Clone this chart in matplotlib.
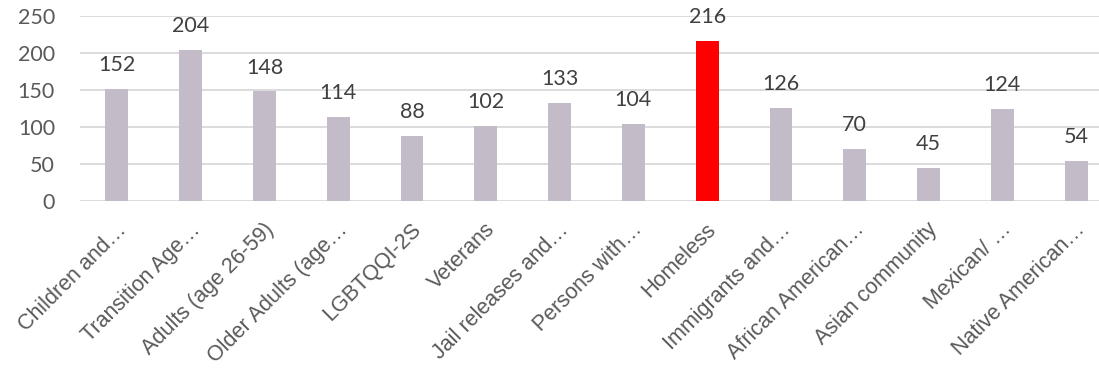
import numpy as np
import matplotlib.pyplot as plt
from matplotlib.transforms import ScaledTranslation

# 各群体人数
groups = ['Children and…', 'Transition Age…', 'Adults (age 26-59)', 'Older Adults (age…',
          'LGBTQQI-2S', 'Veterans', 'Jail releases and…', 'Persons with…', 'Homeless',
          'Immigrants and…', 'African American…', 'Asian community', 'Mexican/ …',
          'Native American…']
counts = [152, 204, 148, 114, 88, 102, 133, 104, 216, 126, 70, 45, 124, 54]
highlight = 'Homeless'

x = np.arange(len(groups))
colors = ['#ff0000' if g == highlight else '#c3bcc8' for g in groups]
num_font = ['Lato', 'DejaVu Sans']

fig = plt.figure(figsize=(10.99, 3.71), dpi=100)
ax = fig.add_axes([80 / 1099, 170 / 371, 1033 / 1099, 185 / 371])

ax.bar(x, counts, 0.31, color=colors, zorder=3)
for a, b in zip(x, counts):
    ax.annotate(str(b), (a, b), xytext=(0, 10), textcoords='offset points',
                ha='center', va='bottom', fontsize=15.5, family=num_font,
                color='#404040')

ax.set_xlim(-0.5, len(groups) - 0.5)
ax.set_ylim(0, 250)
ax.set_yticks([0, 50, 100, 150, 200, 250])
ax.yaxis.grid(True, color='#d9d9d9', linewidth=1.3, zorder=0)
for s in ax.spines.values():
    s.set_visible(False)
ax.tick_params(axis='both', length=0)
ax.tick_params(axis='y', pad=18, labelsize=15.5, labelcolor='#595959')
for lbl in ax.get_yticklabels():
    lbl.set_family(num_font)

ax.set_xticks(x)
ax.set_xticklabels(groups, rotation=45, ha='right', rotation_mode='anchor',
                   fontsize=15.5, color='#595959', family='Liberation Sans')
ax.tick_params(axis='x', pad=13)
shift = ScaledTranslation(-1 / 72, 0, fig.dpi_scale_trans)
for lbl in ax.get_xticklabels():
    lbl.set_transform(lbl.get_transform() + shift)

fig.savefig('out.png', dpi=100)
